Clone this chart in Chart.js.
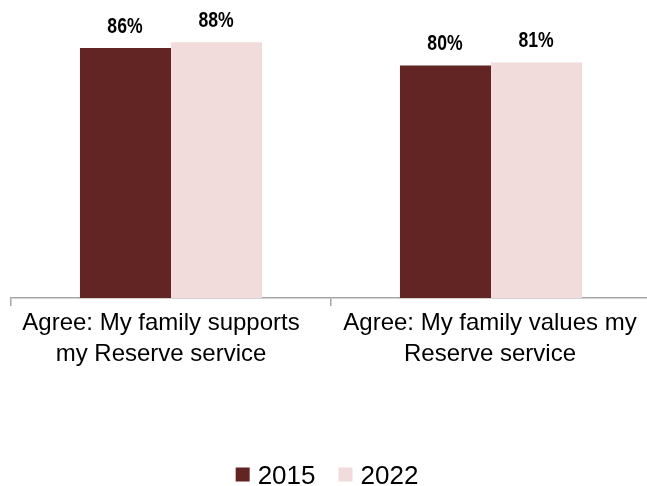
<!DOCTYPE html>
<html>
<head>
<meta charset="utf-8">
<script src="https://cdn.jsdelivr.net/npm/chart.js@4/dist/chart.umd.min.js"></script>
<style>
  html, body { margin: 0; padding: 0; background: #fff; overflow: hidden; }
  #wrap { width: 647px; height: 486px; overflow: hidden; }
  canvas { display: block; }
</style>
</head>
<body>
<div id="wrap"><canvas id="chart" width="660" height="486"></canvas></div>
<script>
// Survey items (two-line axis labels) and share agreeing, by survey year
const categories = [
  ['Agree: My family supports', 'my Reserve service'],
  ['Agree: My family values my', 'Reserve service']
];
const seriesNames = ['2015', '2022'];
const values2015 = [86, 80];
const values2022 = [88, 81];

const colors = ['#632523', '#F2DCDB'];
const axisGrey = '#A6A6A6';
const labelFont = "'Liberation Sans', Arial, sans-serif";

// Percent labels above each bar (bold, horizontally condensed)
const valueLabels = {
  id: 'valueLabels',
  afterDatasetsDraw(chart) {
    const ctx = chart.ctx;
    const squeeze = 0.8;
    ctx.save();
    ctx.fillStyle = '#000';
    ctx.font = 'bold 22px ' + labelFont;
    ctx.textAlign = 'center';
    ctx.textBaseline = 'alphabetic';
    chart.data.datasets.forEach((ds, i) => {
      chart.getDatasetMeta(i).data.forEach((bar, j) => {
        ctx.save();
        ctx.translate(bar.x - 0.5, bar.y - 15.5);
        ctx.scale(squeeze, 1);
        ctx.fillText(ds.data[j] + '%', 0, 0);
        ctx.restore();
      });
    });
    ctx.restore();
  }
};

// Two-line category labels under the axis
const categoryLabels = {
  id: 'categoryLabels',
  afterDraw(chart) {
    const ctx = chart.ctx;
    const scale = chart.scales.x;
    const shift = [-10, -1];
    const firstBaseline = scale.top + 32;
    const lineStep = 30.5;
    ctx.save();
    ctx.fillStyle = '#000';
    ctx.font = '24px ' + labelFont;
    ctx.textAlign = 'center';
    ctx.textBaseline = 'alphabetic';
    chart.data.labels.forEach((lines, i) => {
      const x = scale.getPixelForValue(i) + shift[i];
      [].concat(lines).forEach((line, k) => {
        ctx.fillText(line, x, firstBaseline + k * lineStep);
      });
    });
    ctx.restore();
  }
};

// Centered legend row along the bottom
const bottomLegend = {
  id: 'bottomLegend',
  afterDraw(chart) {
    const ctx = chart.ctx;
    const box = 14, gapText = 8, gapItem = 23;
    ctx.save();
    ctx.font = '26px ' + labelFont;
    ctx.textBaseline = 'alphabetic';
    ctx.textAlign = 'left';
    const items = chart.data.datasets.map(ds => ({
      text: ds.label, color: ds.backgroundColor, w: ctx.measureText(ds.label).width
    }));
    let total = 0;
    items.forEach((it, k) => { total += box + gapText + it.w + (k ? gapItem : 0); });
    let x = chart.width / 2 - 3 - total / 2;
    const baseline = 484;
    items.forEach(it => {
      ctx.fillStyle = it.color;
      ctx.fillRect(x, baseline - 16.5, box, box);
      x += box + gapText;
      ctx.fillStyle = '#000';
      ctx.fillText(it.text, x, baseline);
      x += it.w + gapItem;
    });
    ctx.restore();
  }
};

new Chart(document.getElementById('chart'), {
  type: 'bar',
  data: {
    labels: categories,
    datasets: [
      { label: seriesNames[0], data: values2015, backgroundColor: colors[0] },
      { label: seriesNames[1], data: values2022, backgroundColor: colors[1] }
    ]
  },
  options: {
    responsive: false,
    animation: false,
    devicePixelRatio: 1,
    layout: { padding: { left: 11, right: 9, top: 7.4, bottom: 0 } },
    datasets: { bar: { categoryPercentage: 0.569, barPercentage: 1, borderWidth: 0 } },
    plugins: { legend: { display: false }, tooltip: { enabled: false } },
    scales: {
      y: { display: false, min: 0, max: 100 },
      x: {
        afterFit(scale) { scale.height = 486 - 298; },
        border: { display: true, color: axisGrey, width: 1.5 },
        grid: {
          display: true, offset: true, drawOnChartArea: false, drawTicks: true,
          tickLength: 8, color: axisGrey, lineWidth: 1.5
        },
        ticks: { display: false, autoSkip: false }
      }
    }
  },
  plugins: [valueLabels, categoryLabels, bottomLegend]
});
</script>
</body>
</html>
